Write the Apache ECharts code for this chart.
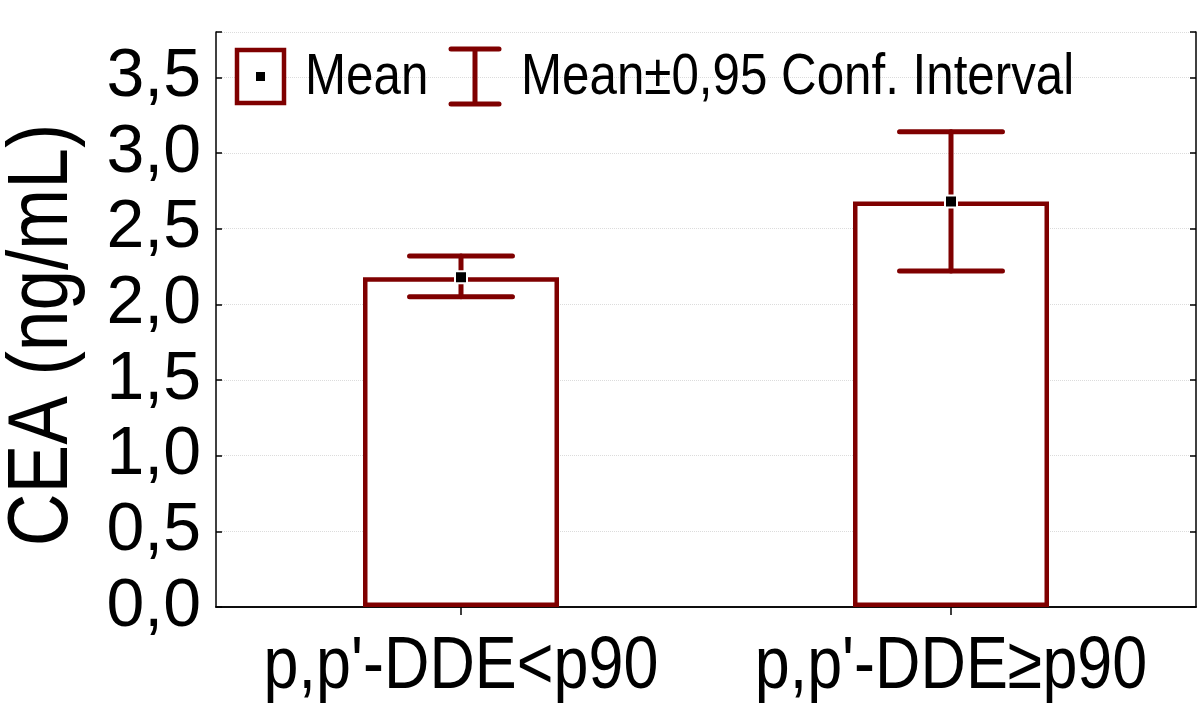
<!DOCTYPE html>
<html>
<head>
<meta charset="utf-8">
<script src="https://cdn.jsdelivr.net/npm/echarts@6/dist/echarts.min.js"></script>
<style>
  html, body { margin: 0; padding: 0; background: #fff; }
  #chart { width: 1200px; height: 717px; }
</style>
</head>
<body>
<div id="chart"></div>
<script>
// values
const categories = ["p,p'-DDE<p90", "p,p'-DDE\u2265p90"];
const means = [2.18, 2.68];
const ciLow = [2.05, 2.22];
const ciHigh = [2.32, 3.14];
const yTicks = [0, 0.5, 1.0, 1.5, 2.0, 2.5, 3.0, 3.5];
const yName = 'CEA (ng/mL)';
const legendNames = ['Mean', 'Mean\u00b10,95 Conf. Interval'];

const RED = '#7f0000';
const SANS = '"Liberation Sans", Arial, sans-serif';
// the original uses a condensed face; squeeze Liberation Sans instead
const SQUEEZE = 0.85;

const chart = echarts.init(document.getElementById('chart'));

const errData = categories.map((c, i) => [i, means[i], ciLow[i], ciHigh[i]]);

function renderErr(params, api) {
  const idx = api.value(0);
  const mid = api.coord([idx, api.value(1)]);
  const lo = api.coord([idx, api.value(2)]);
  const hi = api.coord([idx, api.value(3)]);
  const half = api.size([1, 0])[0] * 0.105;
  const st = { stroke: RED, lineWidth: 5, lineCap: 'round' };
  return {
    type: 'group',
    children: [
      { type: 'line', shape: { x1: mid[0], y1: lo[1], x2: mid[0], y2: hi[1] }, style: st },
      { type: 'line', shape: { x1: mid[0] - half, y1: hi[1], x2: mid[0] + half, y2: hi[1] }, style: st },
      { type: 'line', shape: { x1: mid[0] - half, y1: lo[1], x2: mid[0] + half, y2: lo[1] }, style: st },
      { type: 'rect', shape: { x: mid[0] - 6, y: mid[1] - 6, width: 12, height: 12 },
        style: { fill: '#000', stroke: '#fff', lineWidth: 2 } }
    ]
  };
}

const frameLine = { show: true, lineStyle: { color: '#000', width: 1.5 } };

chart.setOption({
  animation: false,
  backgroundColor: '#fff',
  grid: { left: 216, right: 4, top: 32, bottom: 110, containLabel: false, outerBoundsMode: 'none' },
  xAxis: [
    {
      type: 'category',
      data: categories,
      position: 'bottom',
      axisLine: frameLine,
      axisTick: { show: true, inside: true, alignWithLabel: true, length: 8, lineStyle: { color: '#000', width: 1.5 } },
      axisLabel: { show: false },
      splitLine: { show: false }
    },
    {
      type: 'category',
      data: categories,
      position: 'top',
      axisLine: frameLine,
      axisTick: { show: true, inside: true, alignWithLabel: true, length: 8, lineStyle: { color: '#000', width: 1.5 } },
      axisLabel: { show: false },
      splitLine: { show: false }
    }
  ],
  yAxis: [
    {
      type: 'value',
      min: 0,
      max: 3.8,
      interval: 0.5,
      position: 'left',
      axisLine: frameLine,
      axisTick: { show: true, inside: true, length: 6, lineStyle: { color: '#000', width: 1.5 } },
      axisLabel: {
        color: '#000',
        fontFamily: SANS,
        fontSize: 68,
        margin: 15,
        padding: [0, 0, 30, 0],
        formatter: v => yTicks.some(t => Math.abs(t - v) < 1e-6) ? v.toFixed(1).replace('.', ',') : ''
      },
      splitLine: { show: true, lineStyle: { color: '#dcdcdc', type: 'dotted', width: 1 } }
    },
    {
      type: 'value',
      min: 0,
      max: 3.8,
      interval: 0.5,
      position: 'right',
      axisLine: frameLine,
      axisTick: { show: true, inside: true, length: 6, lineStyle: { color: '#000', width: 1.5 } },
      axisLabel: { show: false },
      splitLine: { show: false }
    }
  ],
  series: [
    {
      type: 'bar',
      data: means,
      barWidth: '40%',
      itemStyle: { color: '#fff', borderColor: RED, borderWidth: 4.5 },
      z: 2
    },
    {
      type: 'custom',
      data: errData,
      renderItem: renderErr,
      encode: { x: 0, y: [1, 2, 3] },
      z: 3
    }
  ]
});

// category labels, axis name and legend drawn as squeezed text
const catLabels = categories.map((c, i) => ({
  type: 'text',
  x: chart.convertToPixel({ xAxisIndex: 0 }, i),
  y: 668,
  scaleX: SQUEEZE,
  style: { text: c, font: '74px ' + SANS, fill: '#000', align: 'center', verticalAlign: 'middle' }
}));

chart.setOption({
  graphic: catLabels.concat([
    {
      type: 'text', x: 43, y: 335, rotation: Math.PI / 2, scaleX: SQUEEZE,
      style: { text: yName, font: '86px ' + SANS, fill: '#000', align: 'center', verticalAlign: 'middle' }
    },
    { type: 'rect', shape: { x: 237, y: 50, width: 47, height: 53 }, style: { fill: '#fff', stroke: RED, lineWidth: 4.5 } },
    { type: 'rect', shape: { x: 256, y: 72, width: 9, height: 9 }, style: { fill: '#000' } },
    {
      type: 'text', x: 305, y: 78, scaleX: SQUEEZE,
      style: { text: legendNames[0], font: '58px ' + SANS, fill: '#000', align: 'left', verticalAlign: 'middle' }
    },
    { type: 'line', shape: { x1: 475, y1: 49, x2: 475, y2: 104 }, style: { stroke: RED, lineWidth: 5 } },
    { type: 'line', shape: { x1: 451, y1: 49, x2: 499, y2: 49 }, style: { stroke: RED, lineWidth: 5, lineCap: 'round' } },
    { type: 'line', shape: { x1: 451, y1: 104, x2: 499, y2: 104 }, style: { stroke: RED, lineWidth: 5, lineCap: 'round' } },
    {
      type: 'text', x: 521, y: 78, scaleX: SQUEEZE,
      style: { text: legendNames[1], font: '58px ' + SANS, fill: '#000', align: 'left', verticalAlign: 'middle' }
    }
  ])
});

window.addEventListener('resize', () => chart.resize());
</script>
</body>
</html>
